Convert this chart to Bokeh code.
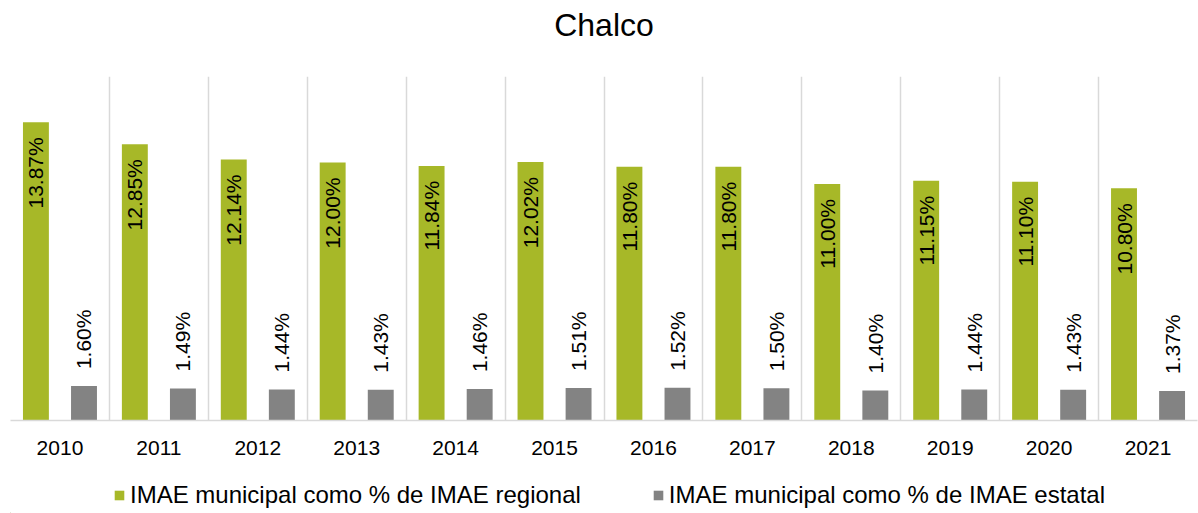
import numpy as np
from bokeh.plotting import figure
from bokeh.layouts import column
from bokeh.models import FixedTicker, Range1d, Legend, LegendItem
from bokeh.core.properties import value
from bokeh.embed import file_html
from bokeh.resources import INLINE

title_text = "Chalco"
years = ["2010", "2011", "2012", "2013", "2014", "2015", "2016", "2017", "2018", "2019", "2020", "2021"]
regional = [13.87, 12.85, 12.14, 12.00, 11.84, 12.02, 11.80, 11.80, 11.00, 11.15, 11.10, 10.80]
estatal = [1.60, 1.49, 1.44, 1.43, 1.46, 1.51, 1.52, 1.50, 1.40, 1.44, 1.43, 1.37]
series_names = ["IMAE municipal como % de IMAE regional", "IMAE municipal como % de IMAE estatal"]

GREEN = "#A7B828"
GRAY = "#838383"
FONT = "Liberation Sans"

n = len(years)
centers = np.arange(n) + 0.5
off = 0.243
bw = 0.262


def strip(h):
    f = figure(width=1198, height=h, output_backend="svg", toolbar_location=None,
               x_range=Range1d(0, 1198), y_range=Range1d(0, h),
               min_border_left=0, min_border_right=0, min_border_top=0, min_border_bottom=0)
    f.axis.visible = False
    f.grid.visible = False
    f.outline_line_color = None
    return f


# title strip
t = strip(76)
t.text(x=[599], y=[76 - 24], text=[title_text], text_align="center", text_baseline="middle",
       text_font=value(FONT), text_font_size="32px", text_color="#000000")

# main chart
p = figure(width=1198, height=392, output_backend="svg", toolbar_location=None,
           x_range=Range1d(0, n), y_range=Range1d(0, 16),
           min_border_left=10, min_border_right=1, min_border_top=0, min_border_bottom=48)

r1 = p.vbar(x=centers - off, top=regional, width=bw, fill_color=GREEN, line_color=None)
r2 = p.vbar(x=centers + off, top=estatal, width=bw, fill_color=GRAY, line_color=None)

p.text(x=centers - off, y=regional, text=[f"{v:.2f}%" for v in regional], angle=np.pi / 2,
       text_align="right", text_baseline="middle", y_offset=15,
       text_font=value(FONT), text_font_size="21px", text_color="#000000")
p.text(x=centers + off, y=estatal, text=[f"{v:.2f}%" for v in estatal], angle=np.pi / 2,
       text_align="left", text_baseline="middle", y_offset=-17,
       text_font=value(FONT), text_font_size="21px", text_color="#000000")

p.outline_line_color = None
p.yaxis.visible = False
p.ygrid.visible = False
p.xgrid.ticker = FixedTicker(ticks=list(range(n + 1)))
p.xgrid.grid_line_color = "#d9d9d9"
p.xgrid.grid_line_width = 1.5

ax = p.xaxis[0]
ax.ticker = FixedTicker(ticks=list(centers))
ax.major_label_overrides = {float(c): y for c, y in zip(centers, years)}
ax.major_tick_line_color = None
ax.minor_tick_line_color = None
ax.axis_line_color = "#d9d9d9"
ax.axis_line_width = 1.5
ax.major_label_text_font = FONT
ax.major_label_text_font_size = "21px"
ax.major_label_text_color = "#000000"
ax.major_label_standoff = 14

# legend strip (proxy glyphs lie outside the visible range)
q = strip(45)
g1 = q.vbar(x=[-100], top=[1], width=1, fill_color=GREEN, line_color=None)
g2 = q.vbar(x=[-100], top=[1], width=1, fill_color=GRAY, line_color=None)
legend = Legend(items=[LegendItem(label=series_names[0], renderers=[g1]),
                       LegendItem(label=series_names[1], renderers=[g2])],
                orientation="horizontal", location=(103, 4),
                glyph_width=12, glyph_height=12, label_standoff=5, spacing=71,
                label_text_font=FONT, label_text_font_size="24px", label_text_color="#000000",
                border_line_color=None, background_fill_alpha=0, padding=0, margin=0)
q.add_layout(legend, "center")

open("out.html", "w").write(file_html(column(t, p, q, spacing=0), INLINE))
